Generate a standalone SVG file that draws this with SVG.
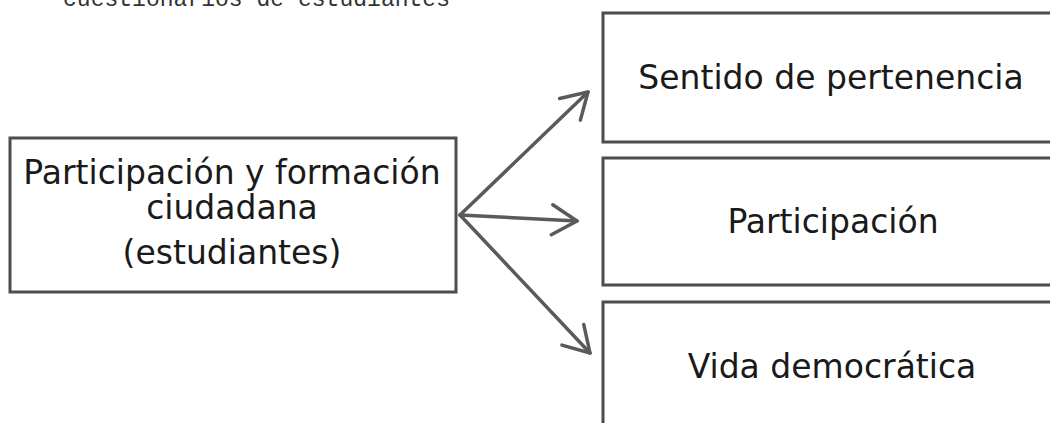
<svg xmlns="http://www.w3.org/2000/svg" width="1050" height="423" viewBox="0 0 1050 423">
<style>
.box{fill:#fff;stroke:#4d4d4d;stroke-width:3}
.t{font-family:"DejaVu Sans",Verdana,sans-serif;fill:#1a1a1a;text-anchor:middle}
.c{fill:none;stroke:#5a5a5a;stroke-width:3.5;stroke-linecap:round;stroke-linejoin:round}
</style>
<defs>
<marker id="ah" viewBox="0 0 12 12" refX="11" refY="6" markerWidth="12" markerHeight="12" markerUnits="userSpaceOnUse" orient="auto" overflow="visible">
<path d="M-14,-9 L11,6 M-14,21 L11,6" fill="none" stroke="#5a5a5a" stroke-width="3.5" stroke-linecap="round"/>
</marker>
</defs>
<rect width="1050" height="423" fill="#fff"/>
<text x="63" y="6" font-family="'Liberation Mono',monospace" font-size="23" fill="#333" textLength="387">cuestionarios de estudiantes</text>
<g id="connectors">
<line class="c" x1="460" y1="215" x2="588" y2="92" marker-end="url(#ah)"/>
<line class="c" x1="460" y1="215" x2="577" y2="221" marker-end="url(#ah)"/>
<line class="c" x1="460" y1="215" x2="590" y2="353" marker-end="url(#ah)"/>
</g>
<g id="source">
<rect class="box" x="10" y="138" width="446" height="154"/>
<text class="t" x="232" y="184" font-size="33">Participación y formación</text>
<text class="t" x="232" y="219" font-size="33">ciudadana</text>
<text class="t" x="232" y="264" font-size="33">(estudiantes)</text>
</g>
<g id="sentido">
<rect class="box" x="603" y="13" width="460" height="129"/>
<text class="t" x="831" y="89" font-size="33">Sentido de pertenencia</text>
</g>
<g id="participacion">
<rect class="box" x="603" y="158" width="460" height="127"/>
<text class="t" x="833" y="233" font-size="33">Participación</text>
</g>
<g id="vida">
<rect class="box" x="603" y="302" width="460" height="140"/>
<text class="t" x="832" y="378" font-size="33">Vida democrática</text>
</g>
</svg>
